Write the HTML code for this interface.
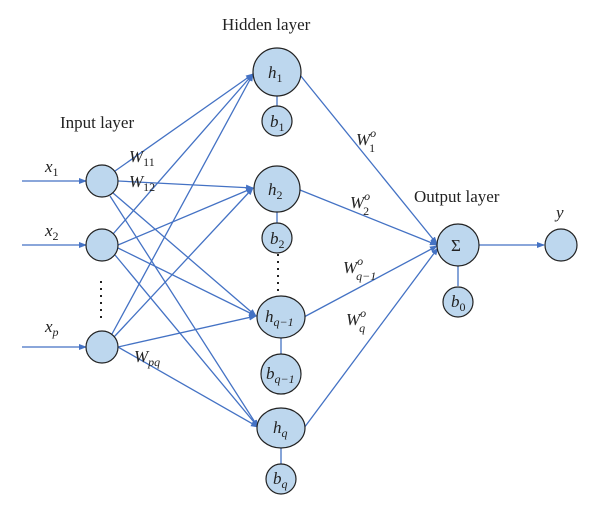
<!DOCTYPE html>
<html><head><meta charset="utf-8"><style>html,body{margin:0;padding:0;background:#fff}svg{display:block}</style></head><body>
<svg width="600" height="516" viewBox="0 0 600 516" xmlns="http://www.w3.org/2000/svg" font-family="Liberation Serif, serif">
<defs><marker id="a" markerWidth="8" markerHeight="8" refX="7" refY="4" orient="auto" markerUnits="userSpaceOnUse"><path d="M0,1 L8,4 L0,7 z" fill="#4472c4"/></marker></defs>
<g stroke="#4472c4" stroke-width="1.3" fill="none" marker-end="url(#a)">
<line x1="22" y1="181" x2="86" y2="181"/>
<line x1="22" y1="245" x2="86" y2="245"/>
<line x1="22" y1="347" x2="86" y2="347"/>
<line x1="115" y1="171" x2="253" y2="74"/>
<line x1="118" y1="181" x2="253" y2="188"/>
<line x1="113" y1="193" x2="256" y2="316"/>
<line x1="110" y1="196" x2="258" y2="427"/>
<line x1="113" y1="234" x2="253" y2="74"/>
<line x1="118" y1="245" x2="253" y2="188"/>
<line x1="118" y1="248" x2="256" y2="316"/>
<line x1="115" y1="255" x2="258" y2="427"/>
<line x1="112" y1="334" x2="253" y2="74"/>
<line x1="114" y1="337" x2="253" y2="188"/>
<line x1="118" y1="347" x2="256" y2="316"/>
<line x1="118" y1="347" x2="258" y2="427"/>
<line x1="300" y1="75" x2="437" y2="244"/>
<line x1="300" y1="190" x2="437" y2="245"/>
<line x1="304" y1="317" x2="437" y2="246"/>
<line x1="304" y1="428" x2="438" y2="248"/>
<line x1="479" y1="245" x2="544" y2="245"/>
</g>
<g stroke="#4472c4" stroke-width="1.3">
<line x1="277" y1="96" x2="277" y2="106"/>
<line x1="277" y1="212" x2="277" y2="223"/>
<line x1="281" y1="338" x2="281" y2="354"/>
<line x1="281" y1="448" x2="281" y2="464"/>
<line x1="458" y1="266" x2="458" y2="286"/>
</g>
<g fill="#bdd7ee" stroke="#222" stroke-width="1.2">
<circle cx="102" cy="181" r="16"/><circle cx="102" cy="245" r="16"/><circle cx="102" cy="347" r="16"/>
<circle cx="277" cy="72" r="24"/><circle cx="277" cy="121" r="15"/>
<circle cx="277" cy="189" r="23"/><circle cx="277" cy="238" r="15"/>
<ellipse cx="281" cy="317" rx="24" ry="21"/><circle cx="281" cy="374" r="20"/>
<ellipse cx="281" cy="428" rx="24" ry="20"/><circle cx="281" cy="479" r="15"/>
<circle cx="458" cy="245" r="21"/><circle cx="458" cy="302" r="15"/>
<circle cx="561" cy="245" r="16"/>
</g>
<g stroke="#222" stroke-width="2" stroke-dasharray="2,5">
<line x1="101" y1="281" x2="101" y2="320"/>
<line x1="278" y1="254" x2="278" y2="294"/>
</g>
<g fill="#222" font-size="17">
<text x="222" y="30">Hidden layer</text>
<text x="60" y="128">Input layer</text>
<text x="414" y="202">Output layer</text>
<text x="45" y="172" font-style="italic">x<tspan font-size="12" font-style="normal" dy="4">1</tspan></text>
<text x="45" y="236" font-style="italic">x<tspan font-size="12" font-style="normal" dy="4">2</tspan></text>
<text x="45" y="332" font-style="italic">x<tspan font-size="12" font-style="italic" dy="4">p</tspan></text>
<text x="129" y="162" font-style="italic">W<tspan font-size="12" font-style="normal" dy="4">11</tspan></text>
<text x="129" y="187" font-style="italic">W<tspan font-size="12" font-style="normal" dy="4">12</tspan></text>
<text x="134" y="362" font-style="italic">W<tspan font-size="12" dy="4">pq</tspan></text>
<text x="268" y="78" font-style="italic">h<tspan font-size="12" font-style="normal" dy="4">1</tspan></text>
<text x="270" y="127" font-style="italic">b<tspan font-size="12" font-style="normal" dy="4">1</tspan></text>
<text x="268" y="195" font-style="italic">h<tspan font-size="12" font-style="normal" dy="4">2</tspan></text>
<text x="270" y="244" font-style="italic">b<tspan font-size="12" font-style="normal" dy="4">2</tspan></text>
<text x="265" y="322" font-style="italic">h<tspan font-size="12" dy="4">q−1</tspan></text>
<text x="266" y="379" font-style="italic">b<tspan font-size="12" dy="4">q−1</tspan></text>
<text x="273" y="433" font-style="italic">h<tspan font-size="12" dy="4">q</tspan></text>
<text x="273" y="484" font-style="italic">b<tspan font-size="12" dy="4">q</tspan></text>
<text x="451" y="251">Σ</text>
<text x="451" y="307" font-style="italic">b<tspan font-size="12" font-style="normal" dy="4">0</tspan></text>
<text x="556" y="218" font-style="italic">y</text>
<text x="356" y="145" font-style="italic">W<tspan font-size="12" dy="-8">o</tspan><tspan font-size="12" font-style="normal" dx="-7" dy="15">1</tspan></text>
<text x="350" y="208" font-style="italic">W<tspan font-size="12" dy="-8">o</tspan><tspan font-size="12" font-style="normal" dx="-7" dy="15">2</tspan></text>
<text x="343" y="273" font-style="italic">W<tspan font-size="12" dy="-8">o</tspan><tspan font-size="12" dx="-7" dy="15">q−1</tspan></text>
<text x="346" y="325" font-style="italic">W<tspan font-size="12" dy="-8">o</tspan><tspan font-size="12" dx="-7" dy="15">q</tspan></text>
</g>
</svg>
</body></html>
